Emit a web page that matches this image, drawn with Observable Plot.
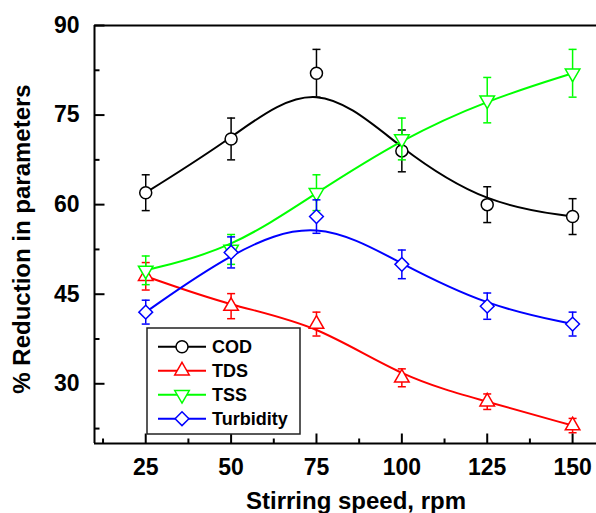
<!DOCTYPE html>
<html>
<head>
<meta charset="utf-8">
<script src="https://cdn.jsdelivr.net/npm/d3@7"></script>
<script src="https://cdn.jsdelivr.net/npm/@observablehq/plot@0.6"></script>
<style>
  html, body { margin: 0; padding: 0; background: #fff; }
  #chart { width: 596px; height: 513px; }
  svg { display: block; }
</style>
</head>
<body>
<div id="chart"></div>
<script>
// ---- data ----
const speeds = [25, 50, 75, 100, 125, 150];
const codVals = [62, 71, 82, 69, 60, 58];
const codErr = [3, 3.5, 4, 3.5, 3, 3];
const tdsVals = [48, 43, 40, 31, 27, 23];
const tdsErr = [2.3, 2.1, 2, 1.5, 1.3, 1.2];
const tssVals = [49, 52.5, 62, 71, 77.5, 82];
const tssErr = [2.4, 2.5, 3, 3.5, 3.8, 4];
const turbVals = [42, 52, 58, 50, 43, 40];
const turbErr = [2, 2.6, 2.8, 2.4, 2.2, 2];
const seriesNames = ["COD", "TDS", "TSS", "Turbidity"];
const seriesColors = ["#000000", "#ff0000", "#00ff00", "#0000ff"];
const xTicks = [25, 50, 75, 100, 125, 150];
const xMinorTicks = [12.5, 37.5, 62.5, 87.5, 112.5, 137.5];
const yTicks = [30, 45, 60, 75, 90];
const yMinorTicks = [22.5, 37.5, 52.5, 67.5, 82.5];
const xLabel = "Stirring speed, rpm";
const yLabel = "% Reduction in parameters";

// ---- custom symbols ----
const triDown = {
  draw(ctx, size) {
    const s3 = Math.sqrt(3);
    const y = -Math.sqrt(size / (s3 * 3));
    ctx.moveTo(0, -y * 2);
    ctx.lineTo(-s3 * y, y);
    ctx.lineTo(s3 * y, y);
    ctx.closePath();
  }
};
const capSym = { draw(ctx) { ctx.moveTo(-4, 0); ctx.lineTo(4, 0); } };
const tickUpMajor = { draw(ctx) { ctx.moveTo(0, 0); ctx.lineTo(0, -10); } };
const tickUpMinor = { draw(ctx) { ctx.moveTo(0, 0); ctx.lineTo(0, -5); } };
const tickRightMajor = { draw(ctx) { ctx.moveTo(0, 0); ctx.lineTo(10, 0); } };
const tickRightMinor = { draw(ctx) { ctx.moveTo(0, 0); ctx.lineTo(5, 0); } };

const symbols = ["circle", "triangle", triDown, "diamond2"];
const symbolR = [6, 5.4, 5.4, 6.2];

const allVals = [codVals, tdsVals, tssVals, turbVals];
const allErr = [codErr, tdsErr, tssErr, turbErr];

const series = seriesNames.map((name, i) => ({
  name,
  color: seriesColors[i],
  symbol: symbols[i],
  r: symbolR[i],
  rows: speeds.map((s, j) => ({ x: s, y: allVals[i][j], e: allErr[i][j] }))
}));

const marks = [];
for (const s of series) {
  marks.push(Plot.line(s.rows, { x: "x", y: "y", curve: "basis", stroke: s.color, strokeWidth: 2 }));
}
for (const s of series) {
  marks.push(Plot.ruleX(s.rows, { x: "x", y1: d => d.y - d.e, y2: d => d.y + d.e, stroke: s.color, strokeWidth: 1.5 }));
  marks.push(Plot.dot(s.rows, { x: "x", y: d => d.y - d.e, symbol: capSym, stroke: s.color, strokeWidth: 1.5 }));
  marks.push(Plot.dot(s.rows, { x: "x", y: d => d.y + d.e, symbol: capSym, stroke: s.color, strokeWidth: 1.5 }));
  marks.push(Plot.dot(s.rows, { x: "x", y: "y", symbol: s.symbol, r: s.r, stroke: s.color, fill: "white", strokeWidth: 1.5 }));
}

// frame lines
marks.push(Plot.ruleX([10], { stroke: "#000", strokeWidth: 2 }));
marks.push(Plot.ruleY([20, 90], { stroke: "#000", strokeWidth: 2 }));
// inward ticks
marks.push(Plot.dot(xTicks, { x: d => d, frameAnchor: "bottom", symbol: tickUpMajor, stroke: "#000", strokeWidth: 2 }));
marks.push(Plot.dot(xMinorTicks, { x: d => d, frameAnchor: "bottom", symbol: tickUpMinor, stroke: "#000", strokeWidth: 2 }));
marks.push(Plot.dot(yTicks, { y: d => d, frameAnchor: "left", symbol: tickRightMajor, stroke: "#000", strokeWidth: 2 }));
marks.push(Plot.dot(yMinorTicks, { y: d => d, frameAnchor: "left", symbol: tickRightMinor, stroke: "#000", strokeWidth: 2 }));
// axes (labels drawn separately)
marks.push(Plot.axisX({ ticks: xTicks, tickSize: 0, tickPadding: 15, fontSize: 23, fontWeight: "bold", label: null }));
marks.push(Plot.axisY({ ticks: yTicks, tickSize: 0, tickPadding: 15, fontSize: 23, fontWeight: "bold", label: null }));

const chart = Plot.plot({
  width: 596,
  height: 513,
  marginLeft: 94,
  marginRight: 0,
  marginTop: 25,
  marginBottom: 70,
  style: { fontFamily: "'Liberation Sans', Arial, sans-serif", fontWeight: "bold", fontSize: "23px", color: "#000", background: "#fff" },
  x: { domain: [10, 157] },
  y: { domain: [20, 90] },
  marks
});

const svg = d3.select(chart);
// axis titles
svg.append("text").attr("x", 356).attr("y", 509).attr("text-anchor", "middle")
  .attr("font-size", 24).attr("font-weight", "bold").attr("fill", "#000").text(xLabel);
svg.append("text").attr("transform", "translate(30,239) rotate(-90)").attr("text-anchor", "middle")
  .attr("font-size", 24).attr("font-weight", "bold").attr("fill", "#000").text(yLabel);

// ---- legend (inside plot, pixel-positioned box) ----
const lg = svg.append("g").attr("transform", "translate(147,328)");
lg.append("rect").attr("x", 0).attr("y", 0).attr("width", 153).attr("height", 106)
  .attr("fill", "white").attr("stroke", "#222").attr("stroke-width", 1.5);
series.forEach((s, i) => {
  const cy = 18.7 + i * 24;
  lg.append("line").attr("x1", 11).attr("x2", 59).attr("y1", cy).attr("y2", cy)
    .attr("stroke", s.color).attr("stroke-width", 2);
  const sym = typeof s.symbol === "string"
    ? { circle: d3.symbolCircle, triangle: d3.symbolTriangle, diamond2: d3.symbolDiamond2 }[s.symbol]
    : s.symbol;
  lg.append("path").attr("d", d3.symbol(sym, s.r * s.r * Math.PI)())
    .attr("transform", `translate(35,${cy})`)
    .attr("fill", "white").attr("stroke", s.color).attr("stroke-width", 1.5);
  lg.append("text").attr("x", 65).attr("y", cy).attr("dy", "0.35em").attr("text-anchor", "start")
    .attr("font-size", 18).attr("font-weight", "bold").attr("fill", "#000").text(s.name);
});

document.getElementById("chart").appendChild(chart);
</script>
</body>
</html>
